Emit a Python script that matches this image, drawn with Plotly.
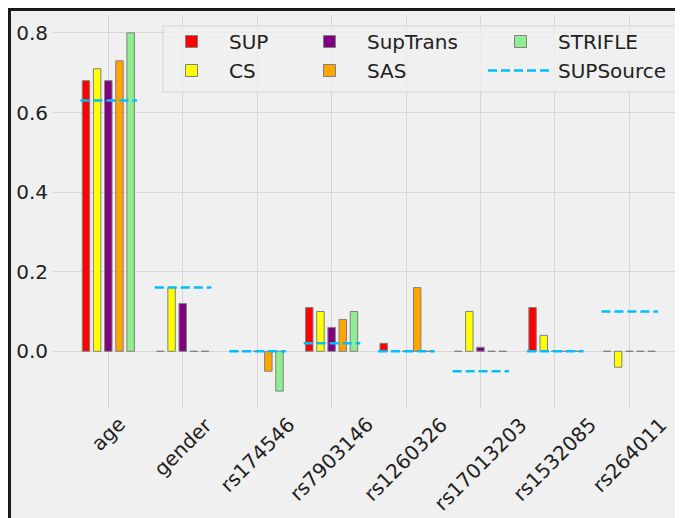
import numpy as np
import plotly.graph_objects as go

# ---- data ----
categories = ["age", "gender", "rs174546", "rs7903146", "rs1260326",
              "rs17013203", "rs1532085", "rs264011"]
sup       = [0.68, 0.00,  0.00, 0.11, 0.02,  0.00, 0.11,  0.00]
cs        = [0.71, 0.16,  0.00, 0.10, 0.00,  0.10, 0.04, -0.04]
suptrans  = [0.68, 0.12,  0.00, 0.06, 0.00,  0.01, 0.00,  0.00]
sas       = [0.73, 0.00, -0.05, 0.08, 0.16,  0.00, 0.00,  0.00]
strifle   = [0.80, 0.00, -0.10, 0.10, 0.00,  0.00, 0.00,  0.00]
supsource = [0.63, 0.16,  0.00, 0.02, 0.00, -0.05, 0.00,  0.10]
y_ticks = [0.0, 0.2, 0.4, 0.6, 0.8]

# ---- geometry (page body has an 8px margin; figure drawn at 8,8) ----
OFF = 8
W, H = 683 - OFF, 518 - OFF
L, R, T, B = 53 - OFF, 0, 15 - OFF, 109
PW, PH = W - L - R, H - T - B


def px(x_ref):
    return (x_ref - OFF - L) / PW


def py(y_ref):
    return (H - B - (y_ref - OFF)) / PH


FONT = "DejaVu Sans"
TXT = "#222222"
idx = np.arange(len(categories))

series = [
    ("SUP", sup, "#ff0000", -0.30, "legend"),
    ("CS", cs, "#ffff00", -0.15, "legend"),
    ("SupTrans", suptrans, "#800080", 0.00, "legend2"),
    ("SAS", sas, "#ffa500", 0.15, "legend2"),
    ("STRIFLE", strifle, "#90ee90", 0.30, "legend3"),
]

fig = go.Figure()
for name, vals, color, off, leg in series:
    fig.add_trace(go.Bar(
        x=idx + off, y=vals, width=0.1, name=name, legend=leg,
        marker=dict(color=color, line=dict(color="grey", width=1)),
    ))

xs, ys = [], []
for i, v in zip(idx, supsource):
    xs += [i - 0.375, i + 0.385, None]
    ys += [v, v, None]
fig.add_trace(go.Scatter(
    x=xs, y=ys, mode="lines", name="SUPSource", legend="legend3",
    line=dict(color="#00bfff", width=2.5, dash="9px,4px"),
))

leg_common = dict(xanchor="left", yanchor="top", bgcolor="rgba(0,0,0,0)",
                  borderwidth=0, itemwidth=65, tracegroupgap=0,
                  font=dict(family=FONT, size=20, color=TXT))
legend_top = py(22)

annotations = []
for i, c in zip(idx, categories):
    annotations.append(dict(
        x=i, xref="x", y=0, yref="paper", yshift=-1, text=c,
        showarrow=False, xanchor="center", yanchor="top", textangle=-45,
        font=dict(family=FONT, size=20, color=TXT),
    ))

shapes = [
    # figure background + black frame
    dict(type="rect", xref="paper", yref="paper", layer="below",
         x0=px(9.5), x1=px(700), y0=py(540), y1=py(9.5),
         fillcolor="#f0f0f0", line=dict(color="#1a1a1a", width=3)),
    # legend frame
    dict(type="rect", xref="paper", yref="paper", layer="above",
         x0=px(163), x1=px(676), y0=py(92), y1=py(26),
         fillcolor="rgba(240,240,240,0.8)",
         line=dict(color="rgba(210,210,210,0.9)", width=1)),
]

fig.update_layout(
    width=W, height=H,
    margin=dict(l=L, r=R, t=T, b=B, pad=0),
    paper_bgcolor="white", plot_bgcolor="#f0f0f0",
    barmode="overlay",
    font=dict(family=FONT, size=20, color=TXT),
    legend=dict(x=px(154), y=legend_top, **leg_common),
    legend2=dict(x=px(292), y=legend_top, **leg_common),
    legend3=dict(x=px(483), y=legend_top, **leg_common),
    xaxis=dict(range=[-0.743, 7.721], tickvals=list(idx), showticklabels=False,
               showgrid=True, gridcolor="#d6d6d6", gridwidth=1,
               zeroline=False, showline=False, ticks=""),
    yaxis=dict(range=[-0.145, 0.845], tickvals=y_ticks, tickformat=".1f",
               showgrid=True, gridcolor="#d6d6d6", gridwidth=1,
               zeroline=False, showline=False, ticks="",
               ticklabelstandoff=4,
               tickfont=dict(family=FONT, size=20, color=TXT)),
    annotations=annotations,
    shapes=shapes,
    showlegend=True,
)

fig.write_html("out.html")
